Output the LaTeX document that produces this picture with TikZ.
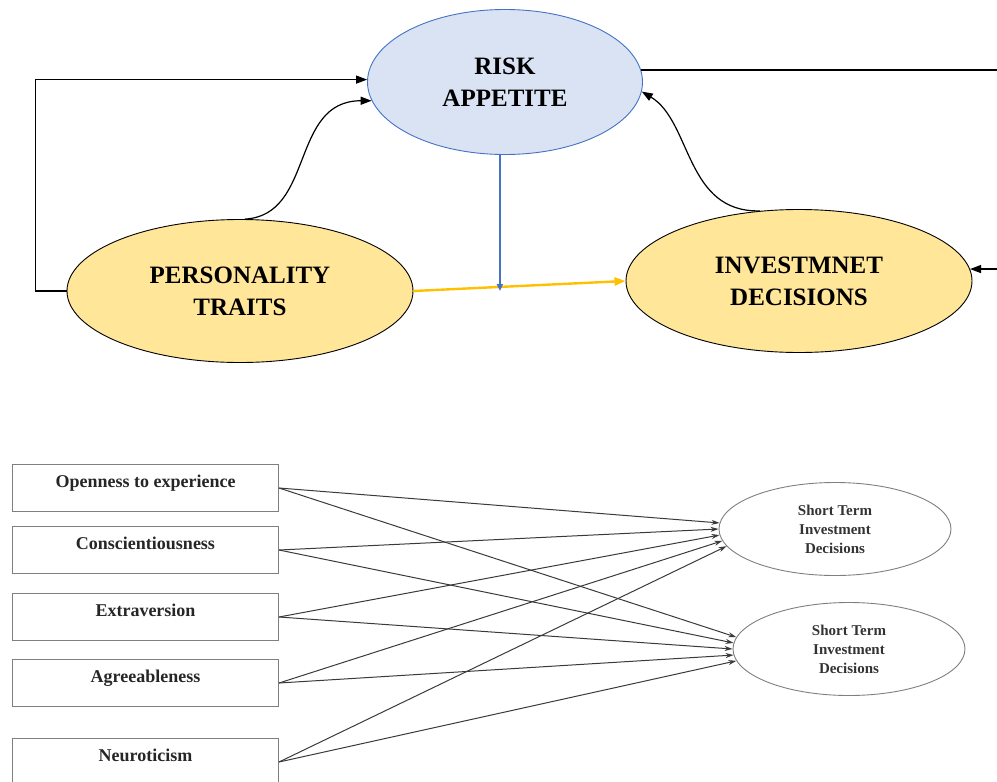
\documentclass[tikz,border=0pt]{standalone}
\usepackage{fontspec}
\setmainfont{Liberation Serif}
\usepackage{xcolor}
\usepackage{tikz}
\usetikzlibrary{positioning,shapes.geometric,arrows.meta}
\definecolor{skyfill}{HTML}{DAE3F3}
\definecolor{skyline}{HTML}{4472C4}
\definecolor{sand}{HTML}{FFE699}
\definecolor{amber}{HTML}{FFC000}
\definecolor{slate}{HTML}{3A3A3A}
\definecolor{ash}{HTML}{7F7F7F}

\tikzset{
  riskoval/.style={ellipse, draw=skyline, fill=skyfill, line width=0.9pt,
    minimum width=275pt, minimum height=145pt, inner sep=0pt, align=center,
    font=\fontsize{25}{32}\selectfont\bfseries},
  bigoval/.style={ellipse, draw=black, fill=sand, line width=0.9pt,
    minimum width=346pt, minimum height=143pt, inner sep=0pt, align=center,
    font=\fontsize{25}{32}\selectfont\bfseries},
  link/.style={draw=black, line width=1.2pt, -{Triangle[length=11pt,width=8pt]}},
  traitbox/.style={draw=ash, line width=1pt, anchor=north west,
    minimum width=266pt, minimum height=47pt, inner sep=0pt,
    text height=13pt, text depth=14pt, text=black!85,
    font=\fontsize{18}{22}\selectfont\bfseries},
  termoval/.style={ellipse, draw=ash, line width=0.9pt, inner sep=0pt,
    minimum width=232pt, minimum height=93pt, align=center, text=black!80,
    font=\fontsize{15}{19}\selectfont\bfseries},
  fan/.style={draw=slate, line width=1pt, -{Stealth[length=8pt,width=5pt]}}
}

\begin{document}
\begin{tikzpicture}[x=1pt,y=-1pt]
\useasboundingbox (0,0) rectangle (997,782);

% model on top
\node[riskoval] (risk) at (505,82) {RISK\\APPETITE};
\node[bigoval] (traits) at (240,291) {PERSONALITY\\TRAITS};
\node[bigoval] (invest) at (799,281) {INVESTMNET\\DECISIONS};
\coordinate (edge) at (997,0);

\draw[link] (traits.west) -- ++(-31,0) |- (risk.179);
\draw[link] (traits.86) .. controls +(70,-4) and +(-82,0) .. (risk.188);
\draw[link] (invest.119) .. controls +(-75,2) and +(50,30) .. (risk.-4);
\draw[black, line width=1.2pt] (risk.5) -- (risk.5 -| edge);
\draw[link] (invest.4 -| edge) -- (invest.4);
\draw[draw=amber, line width=2.4pt, -{Triangle[length=11pt,width=8pt]}] (traits.east) -- (invest.west);
\draw[draw=skyline, line width=2.4pt, -{Triangle[length=7pt,width=6pt]}] (risk.266) -- (risk.266 |- traits.east);

% traits and short term decisions
\foreach \y/\t [count=\i] in {464/Openness to experience, 526/Conscientiousness,
    593/Extraversion, 659/Agreeableness, 738/Neuroticism}
  \node[traitbox] (b\i) at (12,\y) {\t};

\node[termoval] (st1) at (835,529) {Short Term\\Investment\\Decisions};
\node[termoval] (st2) at (849,649) {Short Term\\Investment\\Decisions};

\foreach \b/\p/\q in {1/177/174, 2/180/177, 3/183/180, 4/186/183, 5/189/186}{
  \draw[fan] (b\b.east) -- (st1.\p);
  \draw[fan] (b\b.east) -- (st2.\q);
}
\end{tikzpicture}
\end{document}
